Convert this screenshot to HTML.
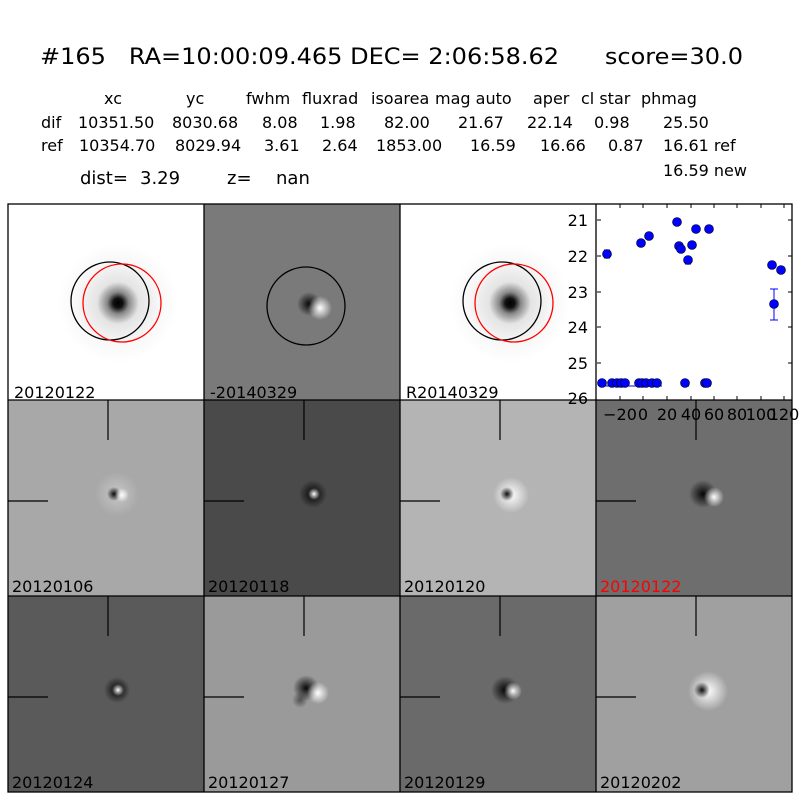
<!DOCTYPE html>
<html><head><meta charset="utf-8"><style>
body{margin:0;background:#fff}
svg{display:block}
text{font-family:"DejaVu Sans","Liberation Sans",sans-serif;fill:#000;white-space:pre}
</style></head><body>
<svg width="800" height="800" viewBox="0 0 800 800" xmlns="http://www.w3.org/2000/svg" xml:space="preserve">
<defs>
<radialGradient id="star"><stop offset="0" stop-color="#000"/><stop offset="0.08" stop-color="#111"/><stop offset="0.18" stop-color="#888"/><stop offset="0.35" stop-color="#e4e4e4"/><stop offset="0.7" stop-color="#f8f8f8"/><stop offset="1" stop-color="#fff"/></radialGradient>
<radialGradient id="dk"><stop offset="0" stop-color="#000" stop-opacity="0.95"/><stop offset="1" stop-color="#000" stop-opacity="0"/></radialGradient>
<radialGradient id="wt"><stop offset="0" stop-color="#fff" stop-opacity="1"/><stop offset="1" stop-color="#fff" stop-opacity="0"/></radialGradient>
<radialGradient id="halo"><stop offset="0" stop-color="#fff" stop-opacity="0.35"/><stop offset="1" stop-color="#fff" stop-opacity="0"/></radialGradient>
</defs>
<rect width="800" height="800" fill="#fff"/>
<text x="40" y="64" font-size="22" textLength="703" lengthAdjust="spacingAndGlyphs">#165   RA=10:00:09.465 DEC= 2:06:58.62      score=30.0</text>
<g font-size="16">
<text x="104" y="104">xc</text><text x="186" y="104">yc</text><text x="246" y="104">fwhm</text><text x="302" y="104">fluxrad</text><text x="371" y="104">isoarea</text><text x="435" y="104">mag auto</text><text x="533" y="104">aper</text><text x="581" y="104">cl star</text><text x="641" y="104">phmag</text>
<text x="41" y="128">dif</text><text x="78" y="128">10351.50</text><text x="172" y="128">8030.68</text><text x="262" y="128">8.08</text><text x="320" y="128">1.98</text><text x="384" y="128">82.00</text><text x="458" y="128">21.67</text><text x="527" y="128">22.14</text><text x="594" y="128">0.98</text><text x="663" y="128">25.50</text>
<text x="41" y="151">ref</text><text x="79" y="151">10354.70</text><text x="175" y="151">8029.94</text><text x="264" y="151">3.61</text><text x="322" y="151">2.64</text><text x="376" y="151">1853.00</text><text x="470" y="151">16.59</text><text x="540" y="151">16.66</text><text x="608" y="151">0.87</text><text x="663" y="151">16.61 ref</text>
<text x="663" y="176">16.59 new</text>
</g>
<g font-size="18"><text x="80" y="184">dist=</text><text x="140" y="184">3.29</text><text x="227" y="184">z=</text><text x="276" y="184">nan</text></g>

<!-- Row 1 -->
<rect x="8" y="204" width="196" height="196" fill="#fff"/>
<circle cx="118" cy="303" r="60" fill="url(#star)"/>
<circle cx="110" cy="301" r="39" fill="none" stroke="#000" stroke-width="1.3"/>
<circle cx="122" cy="303" r="39" fill="none" stroke="#f00" stroke-width="1.3"/>
<rect x="204" y="204" width="196" height="196" fill="#7a7a7a"/>
<circle cx="309" cy="304" r="12" fill="url(#dk)"/><circle cx="320" cy="308" r="12" fill="url(#wt)"/>
<circle cx="306" cy="306" r="39" fill="none" stroke="#000" stroke-width="1.3"/>
<rect x="400" y="204" width="196" height="196" fill="#fff"/>
<circle cx="510" cy="303" r="60" fill="url(#star)"/>
<circle cx="502" cy="301" r="39" fill="none" stroke="#000" stroke-width="1.3"/>
<circle cx="514" cy="303" r="39" fill="none" stroke="#f00" stroke-width="1.3"/>
<rect x="596" y="204" width="196" height="196" fill="#fff"/>
<g font-size="16"><text x="14" y="398">20120122</text><text x="210" y="398">-20140329</text><text x="406" y="398">R20140329</text></g>

<!-- Row 2 -->
<rect x="8" y="400" width="196" height="196" fill="#a8a8a8"/>
<circle cx="117" cy="494" r="22" fill="url(#halo)"/><circle cx="114" cy="494" r="7" fill="url(#dk)"/><circle cx="122" cy="495" r="7" fill="url(#wt)"/>
<rect x="204" y="400" width="196" height="196" fill="#4a4a4a"/>
<circle cx="313" cy="494" r="14" fill="url(#dk)"/><circle cx="314" cy="494" r="6" fill="url(#wt)"/>
<rect x="400" y="400" width="196" height="196" fill="#b4b4b4"/>
<circle cx="511" cy="495" r="18" fill="url(#wt)"/><circle cx="507" cy="494" r="7" fill="url(#dk)"/>
<rect x="596" y="400" width="196" height="196" fill="#6e6e6e"/>
<circle cx="703" cy="494" r="14" fill="url(#dk)"/><circle cx="714" cy="497" r="10" fill="url(#wt)"/>
<g font-size="16"><text x="12" y="592">20120106</text><text x="208" y="592">20120118</text><text x="404" y="592">20120120</text><text x="600" y="592" style="fill:#f00">20120122</text></g>

<!-- Row 3 -->
<rect x="8" y="596" width="196" height="196" fill="#5a5a5a"/>
<circle cx="117" cy="690" r="13" fill="url(#dk)"/><circle cx="118" cy="690" r="6" fill="url(#wt)"/>
<rect x="204" y="596" width="196" height="196" fill="#9a9a9a"/>
<circle cx="306" cy="688" r="13" fill="url(#dk)"/><circle cx="318" cy="693" r="11" fill="url(#wt)"/><circle cx="300" cy="700" r="8" fill="url(#dk)" opacity="0.5"/>
<rect x="400" y="596" width="196" height="196" fill="#6a6a6a"/>
<circle cx="505" cy="690" r="14" fill="url(#dk)"/><circle cx="513" cy="691" r="9" fill="url(#wt)"/>
<rect x="596" y="596" width="196" height="196" fill="#a0a0a0"/>
<circle cx="708" cy="691" r="20" fill="url(#wt)"/><circle cx="702" cy="690" r="8" fill="url(#dk)"/>
<g font-size="16"><text x="12" y="788">20120124</text><text x="208" y="788">20120127</text><text x="404" y="788">20120129</text><text x="600" y="788">20120202</text></g>

<!-- crosshairs -->
<g stroke="#000" stroke-width="1.2">
<path d="M108 400v40M8 501h40M304 400v40M204 501h40M500 400v40M400 501h40M696 400v40M596 501h40"/>
<path d="M108 596v40M8 697h40M304 596v40M204 697h40M500 596v40M400 697h40M696 596v40M596 697h40"/>
</g>
<!-- borders -->
<g fill="none" stroke="#000" stroke-width="1.3">
<rect x="8" y="204" width="784" height="588"/>
<path d="M204 204v588M400 204v588M596 204v588M8 400h784M8 596h784"/>
</g>

<!-- scatter panel -->
<g stroke="#000" stroke-width="1">
<path d="M597 220h4M597 256h4M597 292h4M597 327h4M597 363h4M792 220h-4M792 256h-4M792 292h-4M792 327h-4M792 363h-4"/>
<path d="M620 400v-4M643 400v-4M667 400v-4M691 400v-4M714 400v-4M737 400v-4M761 400v-4M784 400v-4M620 204v4M643 204v4M667 204v4M691 204v4M714 204v4M737 204v4M761 204v4M784 204v4"/>
</g>
<g font-size="16" text-anchor="end"><text x="588" y="226">21</text><text x="588" y="262">22</text><text x="588" y="298">23</text><text x="588" y="333">24</text><text x="588" y="369">25</text><text x="588" y="404">26</text></g>
<g font-size="16" text-anchor="middle"><text x="620" y="420">−20</text><text x="643" y="420">0</text><text x="667" y="420">20</text><text x="691" y="420">40</text><text x="714" y="420">60</text><text x="737" y="420">80</text><text x="761" y="420">100</text><text x="784" y="420">120</text></g>
<g stroke="#00f" stroke-width="1"><path d="M774 289v31M770 289h8M770 320h8M607 250v8M604 250h6M604 258h6M688 256v8M685 264h6M772 261v8M781 266v8M600 386h62M683 386h6M703 386h8"/></g>
<g fill="#00f" stroke="#000" stroke-width="0.6">
<circle cx="602" cy="383" r="4.5"/><circle cx="612" cy="383" r="4.5"/><circle cx="617" cy="383" r="4.5"/><circle cx="621" cy="383" r="4.5"/><circle cx="625" cy="383" r="4.5"/><circle cx="639" cy="383" r="4.5"/><circle cx="642" cy="383" r="4.5"/><circle cx="646" cy="383" r="4.5"/><circle cx="652" cy="383" r="4.5"/><circle cx="657" cy="383" r="4.5"/><circle cx="685" cy="383" r="4.5"/><circle cx="705" cy="383" r="4.5"/><circle cx="707" cy="383" r="4.5"/>
<circle cx="607" cy="254" r="4.5"/><circle cx="641" cy="243" r="4.5"/><circle cx="649" cy="236" r="4.5"/><circle cx="677" cy="222" r="4.5"/><circle cx="679" cy="246" r="4.5"/><circle cx="681" cy="249" r="4.5"/><circle cx="688" cy="260" r="4.5"/><circle cx="692" cy="245" r="4.5"/><circle cx="696" cy="229" r="4.5"/><circle cx="709" cy="229" r="4.5"/><circle cx="772" cy="265" r="4.5"/><circle cx="781" cy="270" r="4.5"/><circle cx="774" cy="304" r="4.5"/>
</g>
</svg>
</body></html>
